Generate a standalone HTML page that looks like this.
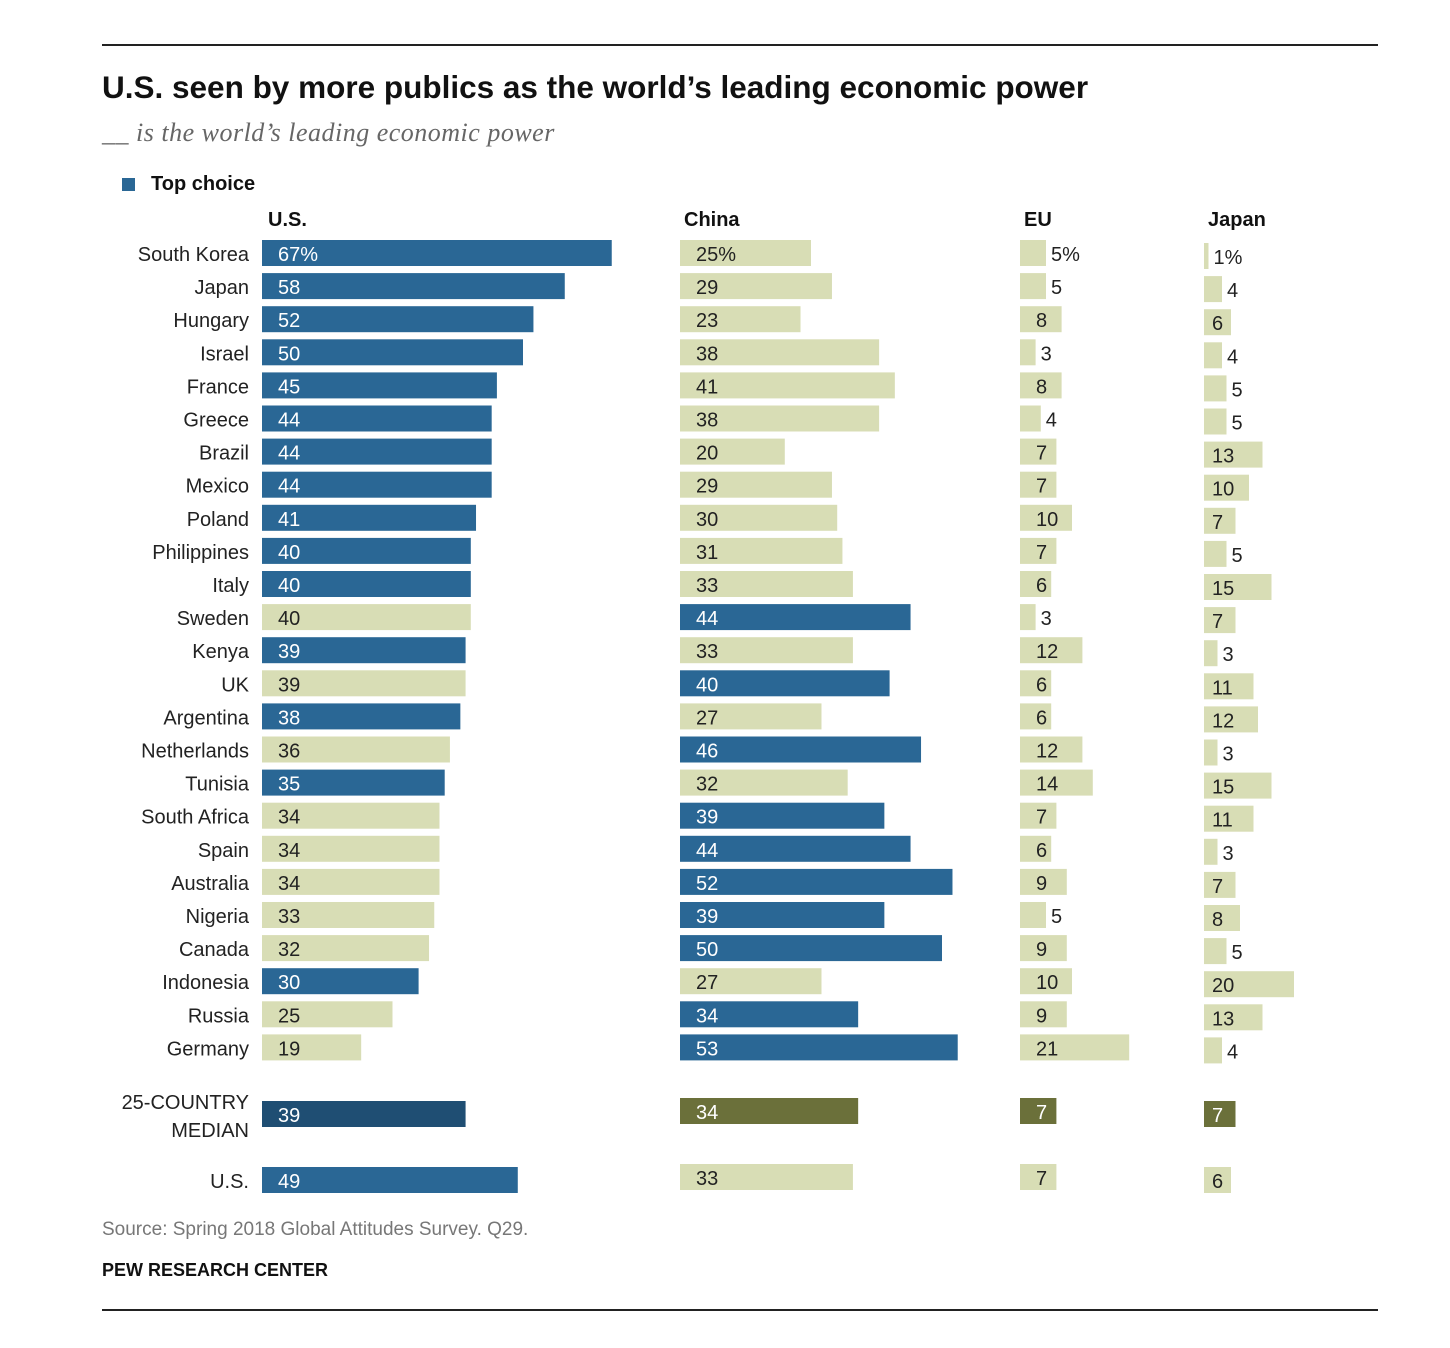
<!DOCTYPE html>
<html><head><meta charset="utf-8"><style>
body{margin:0;background:#fff;width:1450px;height:1348px;overflow:hidden;font-family:"Liberation Sans",sans-serif}
svg{display:block}
</style></head><body>
<svg id="chart" width="1450" height="1348">
<line x1="102" y1="45" x2="1378" y2="45" stroke="#222" stroke-width="2"/>
<text x="102" y="98" font-size="31.5" font-weight="bold" fill="#111">U.S. seen by more publics as the world’s leading economic power</text>
<text x="102" y="141" font-size="26" font-style="italic" fill="#666" letter-spacing="0.5" font-family="Liberation Serif,serif">__ is the world’s leading economic power</text>
<rect x="122" y="178" width="13" height="13" fill="#2a6795"/>
<text x="151" y="190" font-size="20" font-weight="bold" fill="#111">Top choice</text>
<g id="marks"></g>
<text x="102" y="1235" font-size="19" fill="#777">Source: Spring 2018 Global Attitudes Survey. Q29.</text>
<text x="102" y="1276" font-size="18" font-weight="bold" fill="#111">PEW RESEARCH CENTER</text>
<line x1="102" y1="1310" x2="1378" y2="1310" stroke="#222" stroke-width="2"/>
</svg>
<script>
const countries=["South Korea","Japan","Hungary","Israel","France","Greece","Brazil","Mexico","Poland","Philippines","Italy","Sweden","Kenya","UK","Argentina","Netherlands","Tunisia","South Africa","Spain","Australia","Nigeria","Canada","Indonesia","Russia","Germany"];
const usVals=[67,58,52,50,45,44,44,44,41,40,40,40,39,39,38,36,35,34,34,34,33,32,30,25,19];
const chinaVals=[25,29,23,38,41,38,20,29,30,31,33,44,33,40,27,46,32,39,44,52,39,50,27,34,53];
const euVals=[5,5,8,3,8,4,7,7,10,7,6,3,12,6,6,12,14,7,6,9,5,9,10,9,21];
const japanVals=[1,4,6,4,5,5,13,10,7,5,15,7,3,11,12,3,15,11,3,7,8,5,20,13,4];
const medianVals=[39,34,7,7];
const usPublicVals=[49,33,7,6];
const columns=["U.S.","China","EU","Japan"];

const g=document.getElementById('marks');
const NS='http://www.w3.org/2000/svg';
const colX=[262,680,1020,1204];
const colScale=[5.22,5.24,5.2,4.5];
const colYOff=[0,0,0,3];
const BLUE='#2a6795',BEIGE='#d8ddb5',DARK='#1f4e73',OLIVE='#6b703a';
function xScale(c,v){return v*colScale[c];}
function rowY(i){return 253+i*33.1;}
function el(tag,attrs){const e=document.createElementNS(NS,tag);for(const k in attrs)e.setAttribute(k,attrs[k]);g.appendChild(e);return e;}

columns.forEach((c,ci)=>{
  const t=el('text',{x:colX[ci]+(ci===0?6:4),y:226,'font-size':20,'font-weight':'bold',fill:'#111'});
  t.textContent=c;
  
  
});

function bar(ci,v,cy,fill,txtCol,label,name){
  const w=xScale(ci,v);
  const y=cy-13+colYOff[ci];
  const r=el('rect',{x:colX[ci],y:y,width:w,height:26,fill:fill});
  
  
  const inside=v>=6||(ci<2);
  const pad=ci===3?8:16;
  const tx=inside?colX[ci]+pad:colX[ci]+w+5;
  const t=el('text',{x:tx,y:y+21,'font-size':20,fill:inside?txtCol:'#222'});
  t.textContent=label;
  
  
}

const series=[usVals,chinaVals,euVals,japanVals];
countries.forEach((name,i)=>{
  const cy=rowY(i);
  const t=el('text',{x:249,y:cy+8,'font-size':20,fill:'#222','text-anchor':'end'});
  t.textContent=name;
  
  
  const vals=series.map(s=>s[i]);
  const mx=Math.max(...vals);
  vals.forEach((v,ci)=>{
    const top=v===mx;
    bar(ci,v,cy,top?BLUE:BEIGE,top?'#fff':'#222',i===0?v+'%':String(v),'bar-'+name.toLowerCase().replace(/\W+/g,'-')+'-'+ci);
  });
});

const my=1114;
let t=el('text',{x:249,y:1109,'font-size':20,fill:'#222','text-anchor':'end'});t.textContent='25-COUNTRY';


t=el('text',{x:249,y:1137,'font-size':20,fill:'#222','text-anchor':'end'});t.textContent='MEDIAN';


medianVals.forEach((v,ci)=>{
  bar(ci,v,ci===0?my:my-3,ci===0?DARK:OLIVE,'#fff',String(v),'bar-median-'+ci);
});
const uy=1180;
t=el('text',{x:249,y:uy+8,'font-size':20,fill:'#222','text-anchor':'end'});t.textContent='U.S.';


usPublicVals.forEach((v,ci)=>{
  bar(ci,v,ci===0?uy:uy-3,ci===0?BLUE:BEIGE,ci===0?'#fff':'#222',String(v),'bar-us-public-'+ci);
});
</script>
</body></html>
